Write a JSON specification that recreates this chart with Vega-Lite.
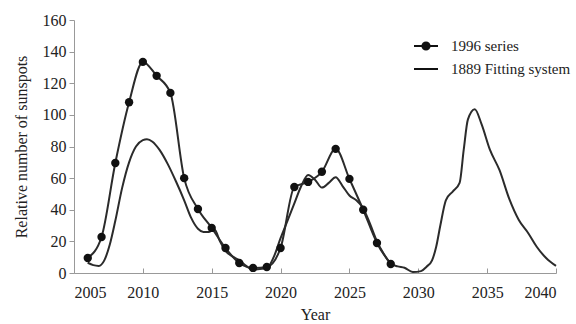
{
  "$schema": "https://vega.github.io/schema/vega-lite/v6.json",
  "autosize": {"type": "none"},
  "width": 482,
  "height": 253,
  "padding": {"left": 74, "top": 20, "right": 20, "bottom": 51},
  "background": "white",
  "config": {
    "view": {"stroke": null},
    "font": "Liberation Serif",
    "axis": {"labelFont": "Liberation Serif", "titleFont": "Liberation Serif", "labelFontSize": 16, "titleFontSize": 16, "titleFontWeight": "normal", "labelColor": "#222", "titleColor": "#222", "domainColor": "#999", "tickColor": "#999", "grid": false}
  },
  "data": {"values": [
    {"series": "1996 series", "year": 2006, "value": 9.5},
    {"series": "1996 series", "year": 2007, "value": 22.8},
    {"series": "1996 series", "year": 2008, "value": 69.6},
    {"series": "1996 series", "year": 2009, "value": 108},
    {"series": "1996 series", "year": 2010, "value": 133.5},
    {"series": "1996 series", "year": 2011, "value": 124.7},
    {"series": "1996 series", "year": 2012, "value": 113.9},
    {"series": "1996 series", "year": 2013, "value": 60},
    {"series": "1996 series", "year": 2014, "value": 40.5},
    {"series": "1996 series", "year": 2015, "value": 28.5},
    {"series": "1996 series", "year": 2016, "value": 15.8},
    {"series": "1996 series", "year": 2017, "value": 6.3},
    {"series": "1996 series", "year": 2018, "value": 3.2},
    {"series": "1996 series", "year": 2019, "value": 3.8},
    {"series": "1996 series", "year": 2020, "value": 15.8},
    {"series": "1996 series", "year": 2021, "value": 54.4},
    {"series": "1996 series", "year": 2022, "value": 57.6},
    {"series": "1996 series", "year": 2023, "value": 64},
    {"series": "1996 series", "year": 2024, "value": 78.5},
    {"series": "1996 series", "year": 2025, "value": 59.5},
    {"series": "1996 series", "year": 2026, "value": 40},
    {"series": "1996 series", "year": 2027, "value": 19},
    {"series": "1996 series", "year": 2028, "value": 5.7},
    {"series": "1889 Fitting system", "year": 2006.0, "value": 6.5},
    {"series": "1889 Fitting system", "year": 2006.4, "value": 5},
    {"series": "1889 Fitting system", "year": 2006.8, "value": 4.5},
    {"series": "1889 Fitting system", "year": 2007.2, "value": 8},
    {"series": "1889 Fitting system", "year": 2007.6, "value": 18},
    {"series": "1889 Fitting system", "year": 2008.0, "value": 33},
    {"series": "1889 Fitting system", "year": 2008.5, "value": 54},
    {"series": "1889 Fitting system", "year": 2009.0, "value": 70},
    {"series": "1889 Fitting system", "year": 2009.5, "value": 80},
    {"series": "1889 Fitting system", "year": 2010.0, "value": 84},
    {"series": "1889 Fitting system", "year": 2010.3, "value": 84.6},
    {"series": "1889 Fitting system", "year": 2010.7, "value": 83},
    {"series": "1889 Fitting system", "year": 2011.2, "value": 78},
    {"series": "1889 Fitting system", "year": 2011.8, "value": 69},
    {"series": "1889 Fitting system", "year": 2012.4, "value": 58},
    {"series": "1889 Fitting system", "year": 2013.0, "value": 46},
    {"series": "1889 Fitting system", "year": 2013.5, "value": 35},
    {"series": "1889 Fitting system", "year": 2014.0, "value": 28},
    {"series": "1889 Fitting system", "year": 2014.4, "value": 26},
    {"series": "1889 Fitting system", "year": 2014.8, "value": 26},
    {"series": "1889 Fitting system", "year": 2015.2, "value": 27.5},
    {"series": "1889 Fitting system", "year": 2015.6, "value": 20},
    {"series": "1889 Fitting system", "year": 2016.0, "value": 14},
    {"series": "1889 Fitting system", "year": 2016.5, "value": 10.5},
    {"series": "1889 Fitting system", "year": 2017.0, "value": 8},
    {"series": "1889 Fitting system", "year": 2017.5, "value": 4.5},
    {"series": "1889 Fitting system", "year": 2018.0, "value": 2},
    {"series": "1889 Fitting system", "year": 2018.5, "value": 2.5},
    {"series": "1889 Fitting system", "year": 2019.0, "value": 3},
    {"series": "1889 Fitting system", "year": 2019.5, "value": 10},
    {"series": "1889 Fitting system", "year": 2020.0, "value": 22},
    {"series": "1889 Fitting system", "year": 2020.5, "value": 33},
    {"series": "1889 Fitting system", "year": 2021.0, "value": 44},
    {"series": "1889 Fitting system", "year": 2021.5, "value": 55},
    {"series": "1889 Fitting system", "year": 2022.0, "value": 62},
    {"series": "1889 Fitting system", "year": 2022.5, "value": 59},
    {"series": "1889 Fitting system", "year": 2023.0, "value": 54},
    {"series": "1889 Fitting system", "year": 2023.5, "value": 57},
    {"series": "1889 Fitting system", "year": 2024.0, "value": 60.5},
    {"series": "1889 Fitting system", "year": 2024.5, "value": 55},
    {"series": "1889 Fitting system", "year": 2025.0, "value": 49},
    {"series": "1889 Fitting system", "year": 2025.5, "value": 46},
    {"series": "1889 Fitting system", "year": 2026.0, "value": 41},
    {"series": "1889 Fitting system", "year": 2026.5, "value": 31},
    {"series": "1889 Fitting system", "year": 2027.0, "value": 20},
    {"series": "1889 Fitting system", "year": 2027.5, "value": 12},
    {"series": "1889 Fitting system", "year": 2028.0, "value": 6},
    {"series": "1889 Fitting system", "year": 2028.5, "value": 4.2},
    {"series": "1889 Fitting system", "year": 2029.0, "value": 3.3},
    {"series": "1889 Fitting system", "year": 2029.6, "value": 0.6},
    {"series": "1889 Fitting system", "year": 2030.2, "value": 1.2},
    {"series": "1889 Fitting system", "year": 2030.6, "value": 4},
    {"series": "1889 Fitting system", "year": 2031.0, "value": 8},
    {"series": "1889 Fitting system", "year": 2031.3, "value": 16.6},
    {"series": "1889 Fitting system", "year": 2031.6, "value": 30},
    {"series": "1889 Fitting system", "year": 2032.0, "value": 46},
    {"series": "1889 Fitting system", "year": 2032.5, "value": 51.5},
    {"series": "1889 Fitting system", "year": 2033.0, "value": 57},
    {"series": "1889 Fitting system", "year": 2033.3, "value": 78},
    {"series": "1889 Fitting system", "year": 2033.6, "value": 97},
    {"series": "1889 Fitting system", "year": 2034.1, "value": 103.6},
    {"series": "1889 Fitting system", "year": 2034.6, "value": 94},
    {"series": "1889 Fitting system", "year": 2035.2, "value": 78},
    {"series": "1889 Fitting system", "year": 2035.9, "value": 65},
    {"series": "1889 Fitting system", "year": 2036.6, "value": 47},
    {"series": "1889 Fitting system", "year": 2037.3, "value": 33.5},
    {"series": "1889 Fitting system", "year": 2038.0, "value": 25},
    {"series": "1889 Fitting system", "year": 2038.6, "value": 16.6},
    {"series": "1889 Fitting system", "year": 2039.3, "value": 9.3},
    {"series": "1889 Fitting system", "year": 2040.0, "value": 4.5}
  ]},
  "encoding": {
    "x": {"field": "year", "type": "quantitative", "scale": {"domain": [2005, 2040], "nice": false, "zero": false},
      "axis": {"title": "Year", "values": [2005, 2010, 2015, 2020, 2025, 2030, 2035, 2040], "format": "d", "tickSize": -5, "labelPadding": 16, "titlePadding": 6}},
    "y": {"field": "value", "type": "quantitative", "scale": {"domain": [0, 160], "nice": false},
      "axis": {"title": "Relative number of sunspots", "values": [0, 20, 40, 60, 80, 100, 120, 140, 160], "tickSize": 5, "labelPadding": 3, "titlePadding": 13}}
  },
  "layer": [
    {
      "transform": [{"filter": "datum.series === '1889 Fitting system'"}],
      "mark": {"type": "line", "interpolate": "monotone", "color": "#2b2b2b", "strokeWidth": 2}
    },
    {
      "transform": [{"filter": "datum.series === '1996 series'"}],
      "mark": {"type": "line", "interpolate": "monotone", "color": "#2b2b2b", "strokeWidth": 2}
    },
    {
      "transform": [{"filter": "datum.series === '1996 series'"}],
      "mark": {"type": "point", "filled": true, "color": "#111", "size": 70, "opacity": 1}
    },
    {
      "transform": [{"filter": "datum.year < 0"}],
      "mark": {"type": "point", "filled": false, "color": "#111", "strokeWidth": 2},
      "encoding": {
        "shape": {"field": "series", "type": "nominal",
          "scale": {"domain": ["1996 series", "1889 Fitting system"], "range": ["M-1,0H1M0.3,0A0.3,0.3 0 1,1 -0.3,0A0.3,0.3 0 1,1 0.3,0M0.18,0A0.18,0.18 0 1,1 -0.18,0A0.18,0.18 0 1,1 0.18,0M0.07,0A0.07,0.07 0 1,1 -0.07,0A0.07,0.07 0 1,1 0.07,0", "M-1,0H1"]},
          "legend": {"title": null, "orient": "none", "legendX": 339, "legendY": 13, "symbolSize": 576, "symbolStrokeColor": "#111", "symbolStrokeWidth": 2, "symbolOpacity": 1, "labelFont": "Liberation Serif", "labelFontSize": 15, "labelColor": "#222", "labelOffset": 12, "rowPadding": 2}
        }
      }
    }
  ]
}
